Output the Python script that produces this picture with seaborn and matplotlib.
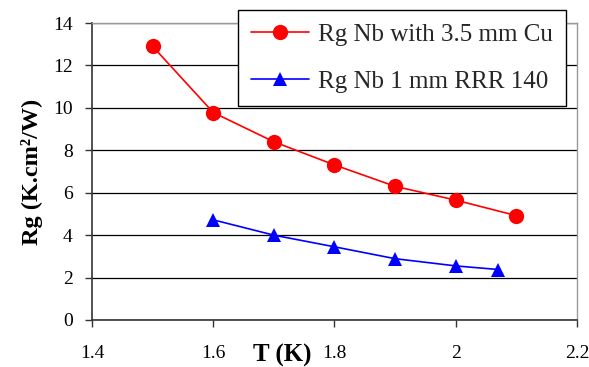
import matplotlib
matplotlib.use("Agg")
import matplotlib.pyplot as plt
import seaborn as sns
import pandas as pd

t_cu = [1.5, 1.6, 1.7, 1.8, 1.9, 2.0, 2.1]
rg_cu = [12.9, 9.78, 8.4, 7.31, 6.3, 5.65, 4.92]
t_rrr = [1.6, 1.7, 1.8, 1.9, 2.0, 2.07]
rg_rrr = [4.72, 4.0, 3.45, 2.89, 2.55, 2.38]
label_cu = "Rg Nb with 3.5 mm Cu"
label_rrr = "Rg Nb 1 mm RRR 140"
xticks = [1.4, 1.6, 1.8, 2.0, 2.2]
xticklabels = ["1.4", "1.6", "1.8", "2", "2.2"]
yticks = [0, 2, 4, 6, 8, 10, 12, 14]

sns.set_theme(style="white")
plt.rcParams["font.family"] = ["Liberation Serif", "DejaVu Serif"]

fig = plt.figure(figsize=(5.89, 3.67), dpi=100)
ax = fig.add_axes([92/589, 1-320/367, (577-92)/589, (320-23)/367])

df_cu = pd.DataFrame({"T": t_cu, "Rg": rg_cu})
df_rrr = pd.DataFrame({"T": t_rrr, "Rg": rg_rrr})
sns.lineplot(data=df_cu, x="T", y="Rg", ax=ax, color="#ff0000", marker="o",
             markersize=11, markeredgewidth=0, linewidth=1.2, label=label_cu, zorder=3)
sns.lineplot(data=df_rrr, x="T", y="Rg", ax=ax, color="#0000ff", marker="^",
             markersize=10.5, markeredgewidth=0, linewidth=1.2, label=label_rrr, zorder=3)

ax.set_xlim(1.4, 2.2)
ax.set_ylim(0, 14)
ax.set_xticks(xticks)
ax.set_xticklabels(xticklabels)
ax.set_yticks(yticks)
ax.yaxis.grid(True, color="black", linewidth=0.9)
ax.xaxis.grid(False)
ax.set_axisbelow(True)

for s in ["left", "bottom"]:
    ax.spines[s].set_color("#333333")
    ax.spines[s].set_linewidth(1.2)
for s in ["top", "right"]:
    ax.spines[s].set_color("#999999")
    ax.spines[s].set_linewidth(1.0)

ax.tick_params(axis="y", left=True, direction="out", length=5, width=1, color="#333333",
               labelsize=14, pad=9, labelcolor="black")
ax.tick_params(axis="x", bottom=True, direction="out", length=5, width=1, color="#333333",
               labelsize=14, pad=13, labelcolor="black")

ax.set_xlabel("T (K)", fontsize=18, fontweight="bold", color="black")
ax.xaxis.set_label_coords(0.392, -0.08)
ax.set_ylabel("Rg (K.cm²/W)", fontsize=17.5, fontweight="bold", color="black")
ax.yaxis.set_label_coords(-0.101, 0.5)

leg = ax.legend(loc="upper left", bbox_to_anchor=(238/589, 1-10/367), bbox_transform=fig.transFigure,
                fontsize=18, frameon=True, fancybox=False, framealpha=1,
                edgecolor="black", handlelength=2.3, borderpad=0.52, labelspacing=1.0,
                handletextpad=0.4, borderaxespad=0)
leg.get_frame().set_linewidth(1.0)

fig.savefig("out.png", dpi=100)
